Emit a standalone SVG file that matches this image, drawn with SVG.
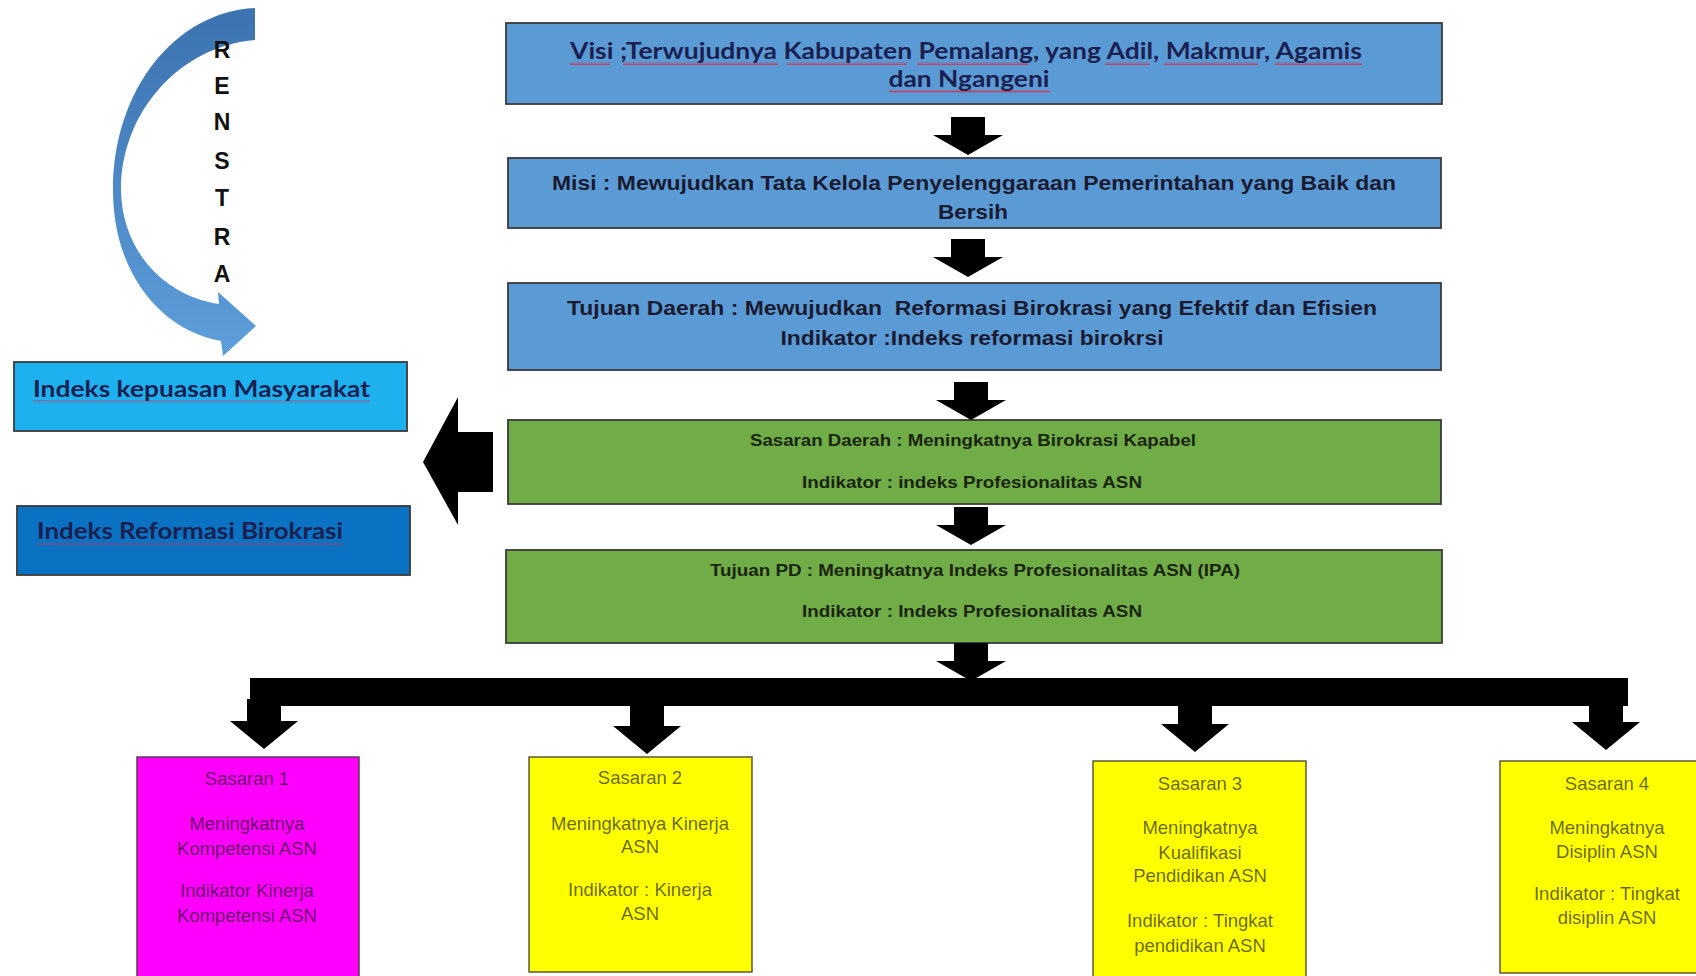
<svg xmlns="http://www.w3.org/2000/svg" width="1696" height="976" viewBox="0 0 1696 976">
<style>
.box{stroke:#3a3a3a;stroke-width:1.8}
.blue{fill:#5B9BD5}
.green{fill:#70AD47}
.tb{font-family:"Liberation Sans",Arial,sans-serif;font-weight:bold;text-anchor:middle;fill:#1a1a30}
.tg{font-family:"Liberation Sans",Arial,sans-serif;font-weight:bold;text-anchor:middle;fill:#1a2410;font-size:17px}
.cal{font-family:Lato,"Open Sans",sans-serif;font-weight:bold;fill:#1c2050}
.ts{font-family:"Liberation Sans",Arial,sans-serif;font-size:18.5px;text-anchor:middle;fill:#000;fill-opacity:0.6}
.ren{font-family:"Liberation Sans",Arial,sans-serif;font-weight:900;font-size:23px;text-anchor:middle;fill:#111}
.arr{fill:#000}
.sq{fill:url(#wave)}
</style>
<defs>
<linearGradient id="cg" x1="0" y1="0" x2="0" y2="1">
<stop offset="0" stop-color="#3c72b0"/>
<stop offset="1" stop-color="#5d9edb"/>
</linearGradient>
<pattern id="wave" width="4" height="3" patternUnits="userSpaceOnUse">
<path d="M0,2.5 L1,0.5 L2,2.5 L3,0.5 L4,2.5" fill="none" stroke="#d03050" stroke-width="0.8"/>
</pattern>
<path id="dn" d="M-17,-38 H17 V-20 H35 L0,0 L-35,-20 H-17 Z"/>
<path id="drop" d="M-17,-50 H17 V-28 H34 L0,0 L-34,-28 H-17 Z"/>
</defs>
<rect width="1696" height="976" fill="#fff"/>

<g id="renstra">
<path d="M255,8 C175,12 113,90 113,190 C113,272 160,330 221,341 L223,356 L256,326 L218,292 L219,304 C165,296 122,252 121,190 C121,112 180,46 255,40 Z" fill="url(#cg)"/>
<text class="ren" x="222" y="58">R</text>
<text class="ren" x="222" y="94">E</text>
<text class="ren" x="222" y="130">N</text>
<text class="ren" x="222" y="169">S</text>
<text class="ren" x="222" y="206">T</text>
<text class="ren" x="222" y="245">R</text>
<text class="ren" x="222" y="282">A</text>
</g>

<g id="visi">
<rect class="box blue" x="506" y="23" width="936" height="81"/>
<rect class="sq" x="570" y="62" width="40" height="3"/>
<rect class="sq" x="623" y="62" width="155" height="3"/>
<rect class="sq" x="787" y="62" width="120" height="3"/>
<rect class="sq" x="917" y="62" width="111" height="3"/>
<rect class="sq" x="1105" y="62" width="45" height="3"/>
<rect class="sq" x="1164" y="62" width="94" height="3"/>
<rect class="sq" x="1275" y="62" width="87" height="3"/>
<rect class="sq" x="889" y="90" width="161" height="3"/>
<text class="cal" x="966" y="59" font-size="23" text-anchor="middle" textLength="792" lengthAdjust="spacingAndGlyphs">Visi ;Terwujudnya Kabupaten Pemalang, yang Adil, Makmur, Agamis</text>
<text class="cal" x="969" y="87" font-size="23" text-anchor="middle" textLength="161" lengthAdjust="spacingAndGlyphs">dan Ngangeni</text>
</g>

<g id="misi">
<rect class="box blue" x="508" y="158" width="933" height="70"/>
<text class="tb" x="974" y="190" font-size="20" textLength="844" lengthAdjust="spacingAndGlyphs">Misi : Mewujudkan Tata Kelola Penyelenggaraan Pemerintahan yang Baik dan</text>
<text class="tb" x="973" y="219" font-size="20" textLength="70" lengthAdjust="spacingAndGlyphs">Bersih</text>
</g>

<g id="tujuan-daerah">
<rect class="box blue" x="508" y="283" width="933" height="87"/>
<text class="tb" x="972" y="315" font-size="20" xml:space="preserve" textLength="810" lengthAdjust="spacingAndGlyphs">Tujuan Daerah : Mewujudkan  Reformasi Birokrasi yang Efektif dan Efisien</text>
<text class="tb" x="972" y="345" font-size="20" textLength="383" lengthAdjust="spacingAndGlyphs">Indikator :Indeks reformasi birokrsi</text>
</g>

<g id="sasaran-daerah">
<rect class="box green" x="508" y="420" width="933" height="84"/>
<text class="tg" x="973" y="446" textLength="446" lengthAdjust="spacingAndGlyphs">Sasaran Daerah : Meningkatnya Birokrasi Kapabel</text>
<text class="tg" x="972" y="488" textLength="340" lengthAdjust="spacingAndGlyphs">Indikator : indeks Profesionalitas ASN</text>
</g>

<g id="tujuan-pd">
<rect class="box green" x="506" y="550" width="936" height="93"/>
<text class="tg" x="975" y="576" textLength="530" lengthAdjust="spacingAndGlyphs">Tujuan PD : Meningkatnya Indeks Profesionalitas ASN (IPA)</text>
<text class="tg" x="972" y="617" textLength="340" lengthAdjust="spacingAndGlyphs">Indikator : Indeks Profesionalitas ASN</text>
</g>

<g id="indeks-kepuasan">
<rect class="box" x="14" y="362" width="393" height="69" fill="#1EB1F0"/>
<rect class="sq" x="33" y="400" width="337" height="3" opacity="0.6"/>
<text class="cal" x="33" y="397" font-size="22" textLength="337" lengthAdjust="spacingAndGlyphs">Indeks kepuasan Masyarakat</text>
</g>

<g id="indeks-reformasi">
<rect class="box" x="17" y="506" width="393" height="69" fill="#0A72C2"/>
<rect class="sq" x="37" y="542" width="306" height="3" opacity="0.6"/>
<text class="cal" x="37" y="539" font-size="22" textLength="306" lengthAdjust="spacingAndGlyphs">Indeks Reformasi Birokrasi</text>
</g>

<g id="sasaran-1">
<rect x="137" y="757" width="222" height="240" fill="#FF00FF" stroke="#5a3a5a" stroke-width="1.5"/>
<text class="ts" x="247" y="785">Sasaran 1</text>
<text class="ts" x="247" y="830">Meningkatnya</text>
<text class="ts" x="247" y="855">Kompetensi ASN</text>
<text class="ts" x="247" y="897">Indikator Kinerja</text>
<text class="ts" x="247" y="922">Kompetensi ASN</text>
</g>

<g id="sasaran-2">
<rect x="529" y="757" width="223" height="215" fill="#FFFF00" stroke="#5a5a3a" stroke-width="1.5"/>
<text class="ts" x="640" y="784">Sasaran 2</text>
<text class="ts" x="640" y="830">Meningkatnya Kinerja</text>
<text class="ts" x="640" y="853">ASN</text>
<text class="ts" x="640" y="896">Indikator : Kinerja</text>
<text class="ts" x="640" y="920">ASN</text>
</g>

<g id="sasaran-3">
<rect x="1093" y="761" width="213" height="240" fill="#FFFF00" stroke="#5a5a3a" stroke-width="1.5"/>
<text class="ts" x="1200" y="790">Sasaran 3</text>
<text class="ts" x="1200" y="834">Meningkatnya</text>
<text class="ts" x="1200" y="859">Kualifikasi</text>
<text class="ts" x="1200" y="882">Pendidikan ASN</text>
<text class="ts" x="1200" y="927">Indikator : Tingkat</text>
<text class="ts" x="1200" y="952">pendidikan ASN</text>
</g>

<g id="sasaran-4">
<rect x="1500" y="761" width="220" height="212" fill="#FFFF00" stroke="#5a5a3a" stroke-width="1.5"/>
<text class="ts" x="1607" y="790">Sasaran 4</text>
<text class="ts" x="1607" y="834">Meningkatnya</text>
<text class="ts" x="1607" y="858">Disiplin ASN</text>
<text class="ts" x="1607" y="900">Indikator : Tingkat</text>
<text class="ts" x="1607" y="924">disiplin ASN</text>
</g>

<g id="connectors" class="arr">
<use href="#dn" x="968" y="155"/>
<use href="#dn" x="968" y="277"/>
<use href="#dn" x="971" y="420"/>
<use href="#dn" x="971" y="545"/>
<use href="#dn" x="971" y="681"/>
<path d="M423,462 L458,397 V432 H493 V492 H458 V525 Z"/>
<rect x="250" y="678" width="1378" height="28"/>
<use href="#drop" x="264" y="749"/>
<use href="#drop" x="647" y="754"/>
<use href="#drop" x="1195" y="752"/>
<use href="#drop" x="1606" y="750"/>
</g>
</svg>
